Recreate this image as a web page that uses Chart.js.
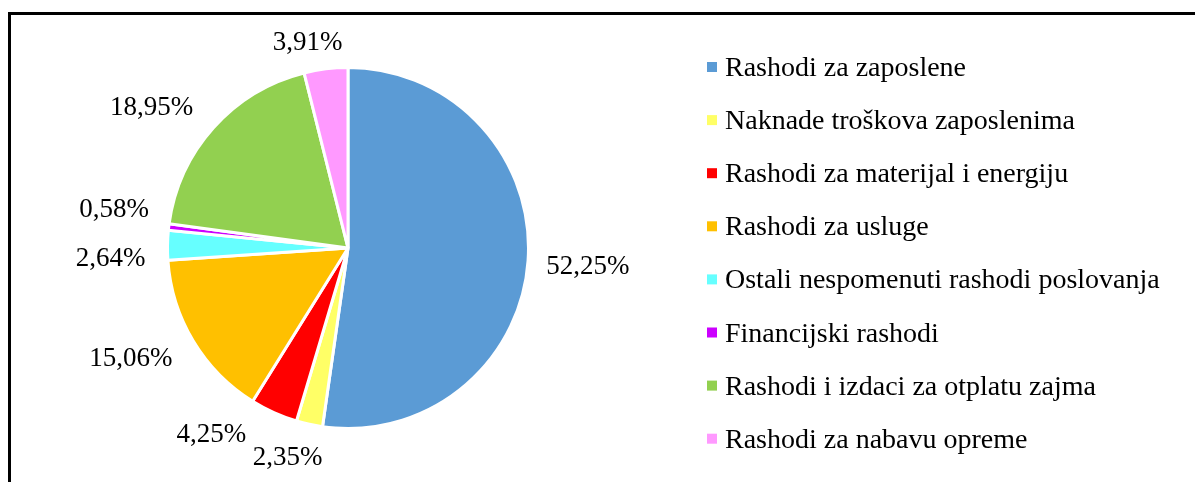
<!DOCTYPE html>
<html>
<head>
<meta charset="utf-8">
<script src="https://cdn.jsdelivr.net/npm/chart.js@4/dist/chart.umd.min.js"></script>
<style>
  html, body { margin: 0; padding: 0; background: #ffffff; }
  #wrap { position: relative; width: 1195px; height: 482px; overflow: hidden; }
  #frame { position: absolute; left: 8px; top: 12px; width: 1300px; height: 600px;
           border-left: 3px solid #000; border-top: 3px solid #000; box-sizing: border-box; }
  #box { position: absolute; left: 0; top: 0; width: 1195px; height: 482px; }
</style>
</head>
<body>
<div id="wrap">
  <div id="frame"></div>
  <div id="box"><canvas id="c"></canvas></div>
</div>
<script>
const categories = [
  'Rashodi za zaposlene',
  'Naknade troškova zaposlenima',
  'Rashodi za materijal i energiju',
  'Rashodi za usluge',
  'Ostali nespomenuti rashodi poslovanja',
  'Financijski rashodi',
  'Rashodi i izdaci za otplatu zajma',
  'Rashodi za nabavu opreme'
];
const shares = [52.25, 2.35, 4.25, 15.06, 2.64, 0.58, 18.95, 3.91];
const colors = ['#5B9BD5', '#FFFF66', '#FF0000', '#FFC000', '#66FFFF', '#CC00FF', '#92D050', '#FF99FF'];

// label placement tweaks (pixel nudges from a radial anchor), Excel-style
const labelNudge = [[0,0],[-9,-27],[-38,-34],[-11,-15],[3,13],[5,-12],[-17,18],[-11,32]];

const FONT = '"Liberation Serif", "Times New Roman", serif';

const labelsPlugin = {
  id: 'pctLabels',
  afterDatasetsDraw(chart) {
    const ctx = chart.ctx;
    const meta = chart.getDatasetMeta(0);
    ctx.save();
    ctx.font = '27px ' + FONT;
    ctx.fillStyle = '#000';
    ctx.textAlign = 'center';
    ctx.textBaseline = 'alphabetic';
    meta.data.forEach((arc, i) => {
      const mid = (arc.startAngle + arc.endAngle) / 2;
      const R = arc.outerRadius + 60;
      const x = arc.x + Math.cos(mid) * R + labelNudge[i][0];
      const y = arc.y + Math.sin(mid) * R + labelNudge[i][1];
      const txt = shares[i].toFixed(2).replace('.', ',') + '%';
      ctx.fillText(txt, x, y + 9);
    });
    ctx.restore();
  }
};

const legendPlugin = {
  id: 'sideLegend',
  afterDraw(chart) {
    const ctx = chart.ctx;
    const ds = chart.data.datasets[0];
    ctx.save();
    ctx.font = '28px ' + FONT;
    ctx.textAlign = 'left';
    ctx.textBaseline = 'alphabetic';
    chart.data.labels.forEach((lab, i) => {
      const cy = 67 + i * 53.1;
      ctx.fillStyle = ds.backgroundColor[i];
      ctx.fillRect(707, cy - 5, 10, 10);
      ctx.fillStyle = '#000';
      ctx.fillText(lab, 725, cy + 9);
    });
    ctx.restore();
  }
};

new Chart(document.getElementById('c'), {
  type: 'pie',
  data: {
    labels: categories,
    datasets: [{
      data: shares,
      backgroundColor: colors,
      borderColor: '#ffffff',
      borderWidth: 3
    }]
  },
  options: {
    responsive: true,
    maintainAspectRatio: false,
    animation: false,
    radius: 180.5,
    layout: { padding: { left: 168, right: 667, top: 68, bottom: 54 } },
    plugins: {
      legend: { display: false },
      tooltip: { enabled: false }
    }
  },
  plugins: [labelsPlugin, legendPlugin]
});
</script>
</body>
</html>
